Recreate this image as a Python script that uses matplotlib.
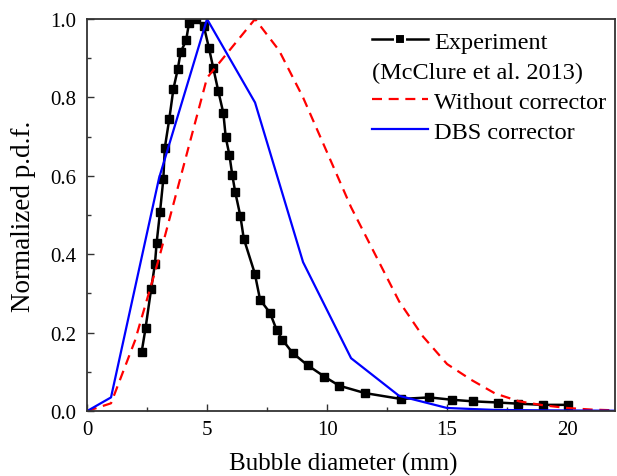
import numpy as np
import matplotlib
matplotlib.use("Agg")
import matplotlib.pyplot as plt
from matplotlib.lines import Line2D

plt.rcParams['font.family'] = ['Liberation Serif', 'DejaVu Serif']

# Experiment (McClure et al. 2013)
x_exp = [2.28, 2.44, 2.67, 2.83, 2.90, 3.04, 3.18, 3.24, 3.43, 3.60, 3.78, 3.90,
         4.13, 4.25, 4.54, 4.87, 5.08, 5.26, 5.47, 5.68, 5.78, 5.93, 6.05, 6.17,
         6.39, 6.53, 6.99, 7.21, 7.62, 7.90, 8.14, 8.57, 9.19, 9.89, 10.5, 11.58,
         13.08, 14.26, 15.2, 16.07, 17.11, 17.97, 18.99, 20.05]
y_exp = [0.152, 0.212, 0.311, 0.375, 0.429, 0.507, 0.592, 0.671, 0.746, 0.822, 0.872, 0.915,
         0.946, 0.99, 1.0, 0.981, 0.926, 0.875, 0.816, 0.760, 0.698, 0.654, 0.603, 0.560,
         0.497, 0.440, 0.351, 0.284, 0.251, 0.207, 0.182, 0.148, 0.117, 0.088, 0.065, 0.046,
         0.031, 0.035, 0.029, 0.025, 0.022, 0.019, 0.016, 0.016]

# Without corrector
x_wo = [0, 1, 2, 3, 4, 5, 6, 7, 8, 9, 10, 11, 12, 13, 14, 15, 16, 17, 18, 19, 20, 21, 22]
y_wo = [0.0, 0.02, 0.18, 0.39, 0.62, 0.85, 0.925, 1.0, 0.92, 0.80, 0.66, 0.52, 0.40, 0.28,
        0.19, 0.12, 0.08, 0.045, 0.025, 0.015, 0.008, 0.004, 0.002]

# DBS corrector
x_dbs = [0, 1, 3, 5, 7, 9, 11, 13, 15, 17, 19, 22]
y_dbs = [0.0, 0.035, 0.594, 1.0, 0.787, 0.38, 0.135, 0.039, 0.008, 0.003, 0.002, 0.001]

fig = plt.figure(figsize=(6.17, 4.77), dpi=100)
ax = fig.add_axes([0.141, 0.136, 0.856, 0.822])

ax.plot(x_exp, y_exp, color='black', lw=1.8, marker='s', ms=5.4, mec='black', mfc='black')
ax.plot(x_wo, y_wo, color='red', lw=1.6, dashes=(4.5, 3))
ax.plot(x_dbs, y_dbs, color='blue', lw=1.6)

ax.set_xlim(0, 22)
ax.set_ylim(0, 1.0)
ax.set_xticks([0, 5, 10, 15, 20])
ax.set_xticks([2.5, 7.5, 12.5, 17.5], minor=True)
ax.set_yticks(np.arange(0, 1.01, 0.2))
ax.set_yticks(np.arange(0.1, 1.0, 0.2), minor=True)
ax.yaxis.set_major_formatter(plt.FormatStrFormatter('%.1f'))
ax.tick_params(which='both', direction='in', labelsize=15, colors='#333333',
               labelcolor='black', width=1.0)
ax.tick_params(axis='x', pad=6.5)
ax.tick_params(axis='y', pad=7.5)
ax.tick_params(which='major', length=5)
ax.tick_params(which='minor', length=3)
for s in ax.spines.values():
    s.set_color('#333333')
    s.set_linewidth(1.3)

ax.set_xlabel('Bubble diameter (mm)', fontsize=18)
ax.set_ylabel('Normalized p.d.f.', fontsize=19.5)
ax.xaxis.set_label_coords(0.486, -0.105)
ax.yaxis.set_label_coords(-0.097, 0.5)

handles = [Line2D([], [], color='black', lw=1.8, marker='s', ms=7, mec='white', mew=1.5, mfc='black'),
           Line2D([], [], color='none'),
           Line2D([], [], color='red', lw=1.6, dashes=(4.5, 3)),
           Line2D([], [], color='blue', lw=1.6)]
labels = ['Experiment', ' ', 'Without corrector', 'DBS corrector']
leg = ax.legend(handles, labels, loc='upper left', bbox_to_anchor=(0.54, 0.97),
                frameon=False, fontsize=17.5, handlelength=2.3, handletextpad=0.25,
                labelspacing=0.33, borderpad=0, borderaxespad=0, numpoints=1)
fig.canvas.draw()
# second line of the experiment label, aligned with the handle column
t0 = leg.get_texts()[0].get_window_extent()
t2 = leg.get_texts()[2].get_window_extent()
ymid = (t0.y0 + t0.y1 + t2.y0 + t2.y1) / 4
xa, ya = ax.transAxes.inverted().transform((0, ymid))
ax.text(0.54, ya, '(McClure et al. 2013)', transform=ax.transAxes, fontsize=17.5,
        ha='left', va='center')

fig.savefig('out.png', dpi=100)
